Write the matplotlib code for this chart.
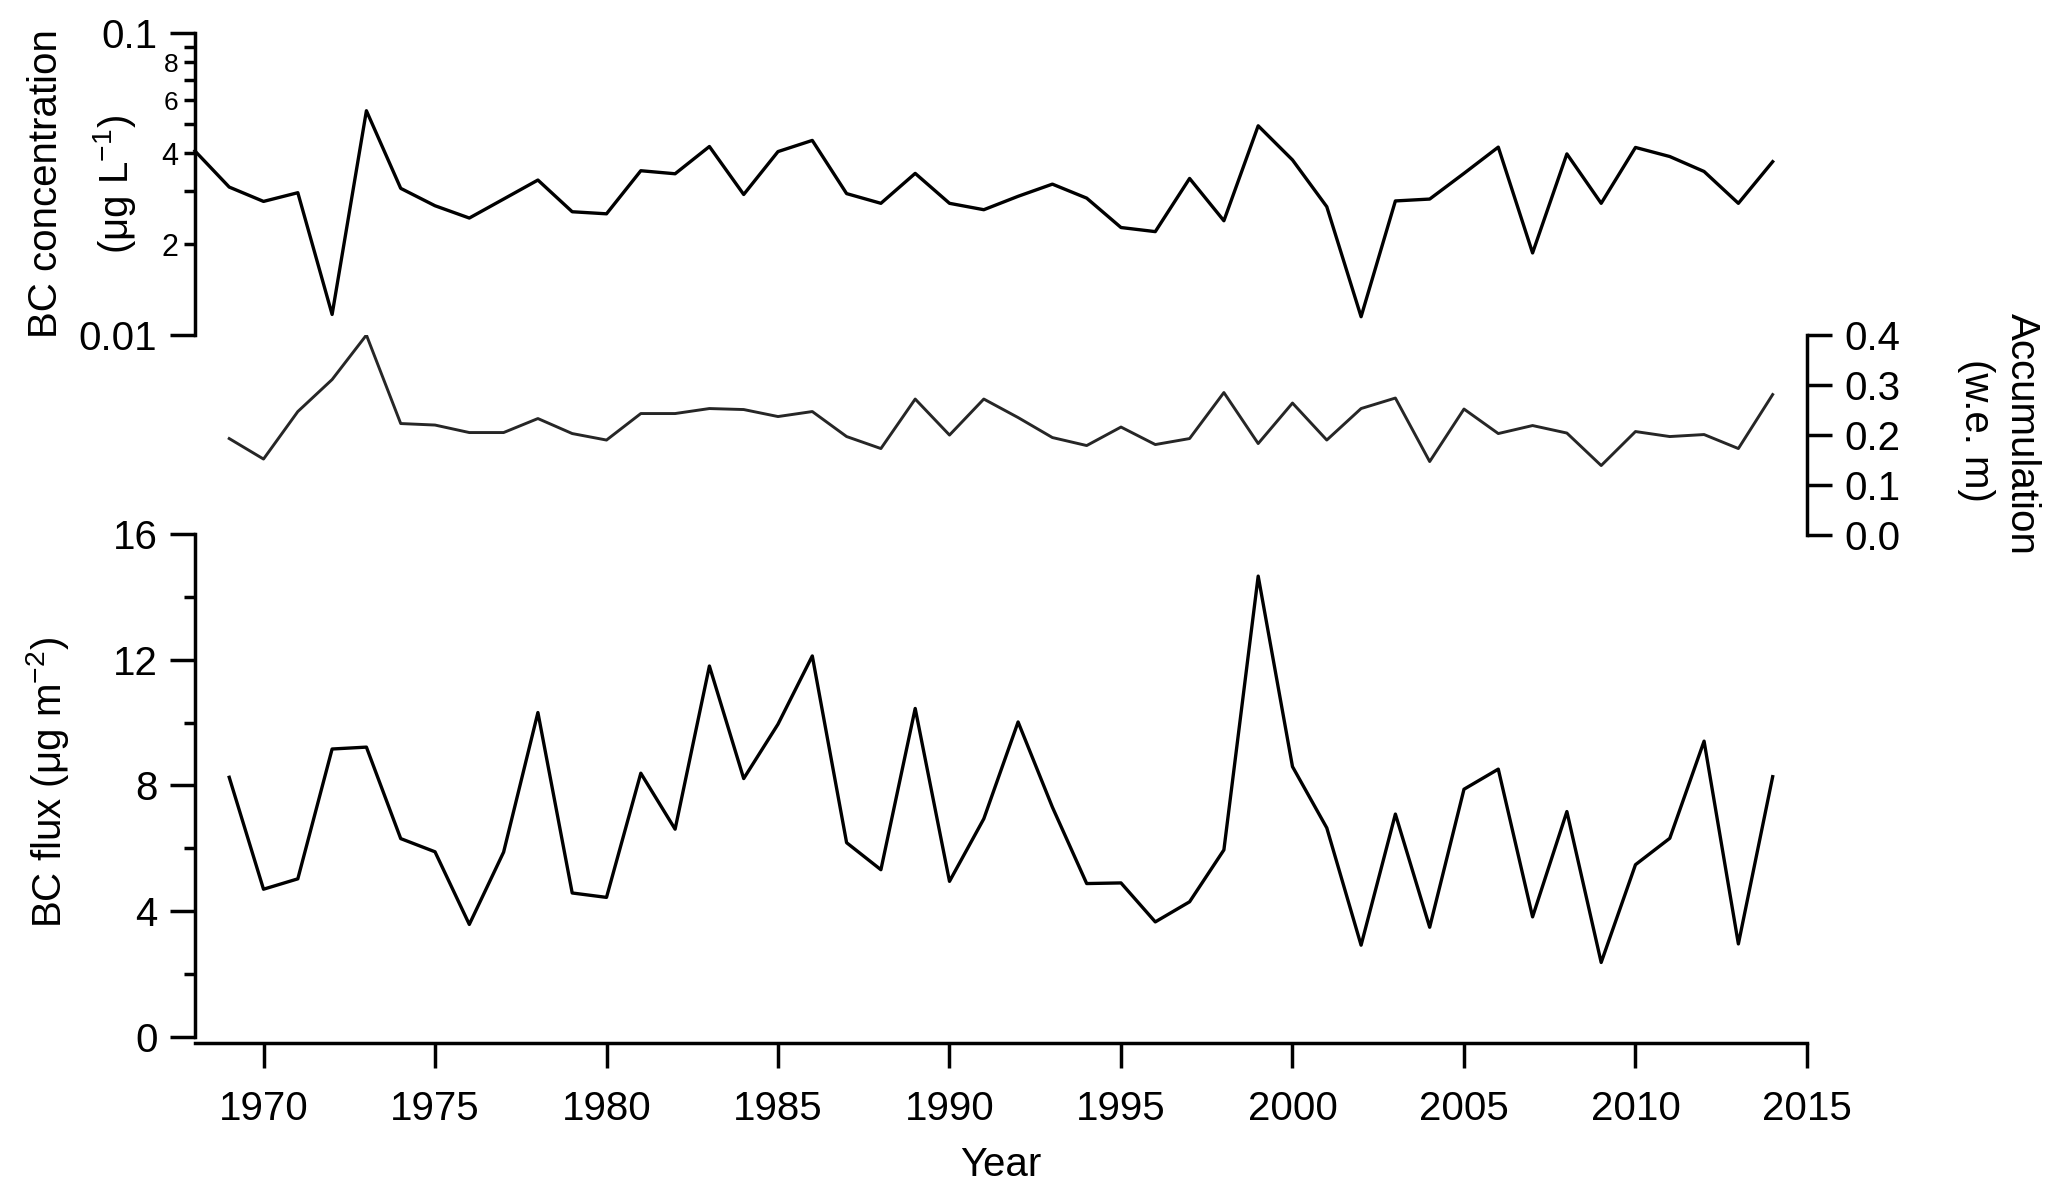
import matplotlib
matplotlib.use("Agg")
import matplotlib.pyplot as plt
from matplotlib.ticker import FixedLocator, FixedFormatter

plt.rcParams['font.family'] = ['Liberation Sans', 'DejaVu Sans']
plt.rcParams['mathtext.fontset'] = 'custom'
plt.rcParams['mathtext.rm'] = 'Liberation Sans'
plt.rcParams['mathtext.default'] = 'regular'

# BC concentration (ug/L), 1968-2014
conc_years = list(range(1968, 2015))
conc = [0.0407, 0.0309, 0.0277, 0.0296, 0.0117, 0.0553, 0.0306, 0.0268, 0.0244, 0.0282,
        0.0326, 0.0256, 0.0252, 0.0350, 0.0342, 0.0421, 0.0292, 0.0405, 0.0441, 0.0294,
        0.0273, 0.0343, 0.0273, 0.0260, 0.0288, 0.0316, 0.0284, 0.0227, 0.0220, 0.0330,
        0.0239, 0.0493, 0.0380, 0.0266, 0.0115, 0.0278, 0.0282, 0.0343, 0.0419, 0.0187,
        0.0398, 0.0273, 0.0418, 0.0390, 0.0348, 0.0273, 0.0375]

# accumulation (w.e. m) and BC flux (ug m-2), 1969-2014
years = list(range(1969, 2015))
accum = [0.193, 0.152, 0.247, 0.311, 0.400, 0.223, 0.220, 0.205, 0.205, 0.233,
         0.203, 0.190, 0.243, 0.243, 0.253, 0.251, 0.237, 0.247, 0.197, 0.173,
         0.272, 0.200, 0.272, 0.235, 0.195, 0.179, 0.216, 0.181, 0.193, 0.285,
         0.183, 0.264, 0.190, 0.253, 0.274, 0.147, 0.252, 0.203, 0.219, 0.204,
         0.139, 0.207, 0.197, 0.201, 0.173, 0.281]
flux = [8.26, 4.70, 5.03, 9.16, 9.22, 6.31, 5.89, 3.58, 5.88, 10.32,
        4.58, 4.44, 8.39, 6.61, 11.80, 8.22, 9.95, 12.12, 6.18, 5.32,
        10.45, 4.95, 6.94, 10.02, 7.31, 4.88, 4.90, 3.66, 4.30, 5.95,
        14.66, 8.60, 6.65, 2.92, 7.09, 3.49, 7.88, 8.52, 3.82, 7.17,
        2.37, 5.48, 6.32, 9.41, 2.96, 8.28]

xticks = [1970, 1975, 1980, 1985, 1990, 1995, 2000, 2005, 2010, 2015]

fs = 29
lw_ax = 2.5

fig = plt.figure(figsize=(20.67, 11.97), dpi=100)
ax_top = fig.add_axes([0.0943, 0.7201, 0.7799, 0.2523])
ax_mid = fig.add_axes([0.0943, 0.5530, 0.7799, 0.1671])
ax_bot = fig.add_axes([0.0943, 0.1337, 0.7799, 0.4202])

for ax in (ax_top, ax_mid, ax_bot):
    ax.set_facecolor('none')
    ax.set_xlim(1968, 2015)
    for s in ax.spines.values():
        s.set_linewidth(lw_ax)
        s.set_visible(False)
    ax.tick_params(which='major', length=18, width=lw_ax, labelsize=fs, direction='out')
    ax.tick_params(which='minor', length=8, width=lw_ax, direction='out')

# top: concentration, log scale
ax_top.plot(conc_years, conc, color='black', lw=2.4, clip_on=False)
ax_top.set_yscale('log')
ax_top.set_ylim(0.01, 0.1)
ax_top.spines['left'].set_visible(True)
ax_top.set_xticks([])
ax_top.yaxis.set_major_locator(FixedLocator([0.01, 0.1]))
ax_top.yaxis.set_major_formatter(FixedFormatter(['0.01', '0.1']))
ax_top.yaxis.set_minor_locator(FixedLocator([0.02, 0.03, 0.04, 0.05, 0.06, 0.07, 0.08, 0.09]))
ax_top.yaxis.set_minor_formatter(FixedFormatter(['2', '', '4', '', '6', '', '8', '']))
ax_top.tick_params(axis='y', which='major', pad=9)
ax_top.tick_params(axis='y', which='minor', pad=4, labelsize=22)
for lab, size in zip(ax_top.get_yticklabels(minor=True), [22, 22, 22, 22, 19, 19, 19, 19]):
    lab.set_fontsize(size)

# middle: accumulation, right axis
ax_mid.plot(years, accum, color='#262626', lw=2.1)
ax_mid.set_ylim(0, 0.4)
ax_mid.spines['right'].set_visible(True)
ax_mid.set_xticks([])
ax_mid.yaxis.tick_right()
ax_mid.set_yticks([0.0, 0.1, 0.2, 0.3, 0.4])
ax_mid.set_yticklabels(['0.0', '0.1', '0.2', '0.3', '0.4'])
ax_mid.tick_params(axis='y', pad=9)

# bottom: BC flux
ax_bot.plot(years, flux, color='black', lw=2.4)
ax_bot.set_ylim(0, 16)
ax_bot.spines['left'].set_visible(True)
ax_bot.spines['bottom'].set_visible(True)
ax_bot.spines['bottom'].set_position(('outward', 4))
ax_bot.set_yticks([0, 4, 8, 12, 16])
ax_bot.set_yticks([2, 6, 10, 14], minor=True)
ax_bot.set_xticks(xticks)
ax_bot.tick_params(axis='y', pad=9)
ax_bot.tick_params(axis='x', pad=16)
ax_bot.set_xlabel('Year', fontsize=fs, labelpad=13)

# axis titles
fig.text(46 / 2067, 1 - 184 / 1197, 'BC concentration', rotation=90,
         ha='center', va='center', fontsize=fs)
fig.text(115 / 2067, 1 - 184 / 1197, r'(μg L$^{-1}$)', rotation=90,
         ha='center', va='center', fontsize=fs)
fig.text(2022 / 2067, 1 - 434 / 1197, 'Accumulation', rotation=-90,
         ha='center', va='center', fontsize=fs)
fig.text(1976 / 2067, 1 - 430 / 1197, '(w.e. m)', rotation=-90,
         ha='center', va='center', fontsize=fs)
fig.text(48 / 2067, 1 - 782 / 1197, r'BC flux (μg m$^{-2}$)', rotation=90,
         ha='center', va='center', fontsize=fs)

fig.savefig('out.png', dpi=100)
